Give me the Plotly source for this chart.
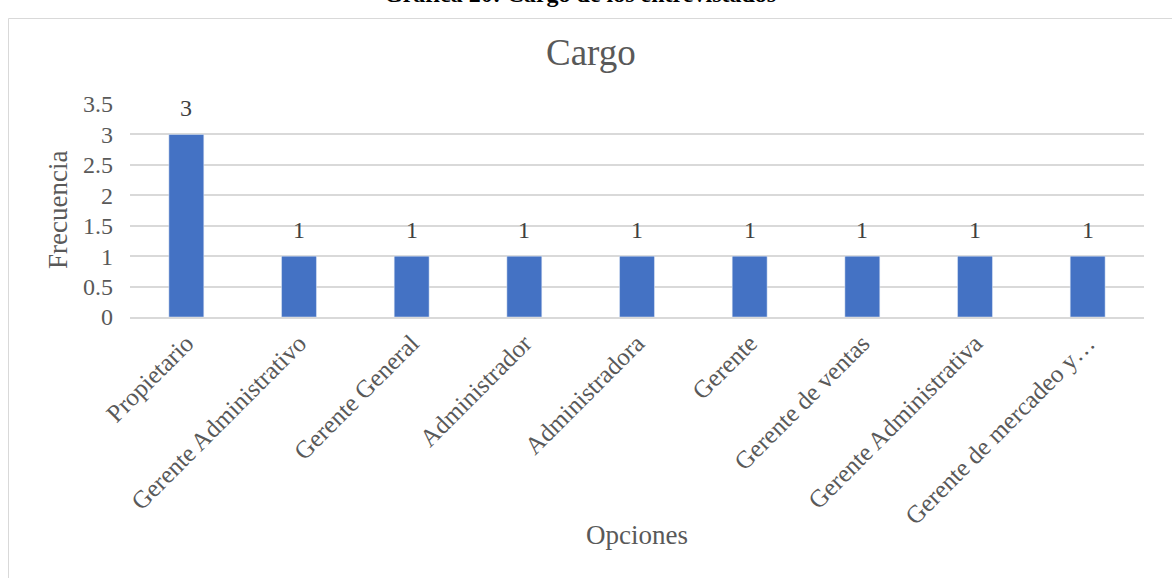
import plotly.graph_objects as go

categorias = ["Propietario", "Gerente Administrativo", "Gerente General", "Administrador",
              "Administradora", "Gerente", "Gerente de ventas", "Gerente Administrativa",
              "Gerente de mercadeo y…"]
frecuencia = [3, 1, 1, 1, 1, 1, 1, 1, 1]
y_ticks = [0, 0.5, 1, 1.5, 2, 2.5, 3, 3.5]
y_ticktext = ["0", "0.5", "1", "1.5", "2", "2.5", "3", "3.5"]

FONT = "Liberation Serif, Times New Roman, serif"
GRAY = "#595959"

L, R, T, B = 130, 28, 104, 261
W, H = 1172, 578
pw, ph = W - L - R, H - T - B

def px_x(x):
    return (x - L) / pw

def px_y(y):
    return (H - B - y) / ph

fig = go.Figure(go.Bar(
    x=categorias, y=frecuencia, marker_color="#4472C4", width=0.31, cliponaxis=False,
))

for c, v in zip(categorias, frecuencia):
    fig.add_annotation(x=c, y=v, text=str(v), showarrow=False, yshift=26,
                       font=dict(family=FONT, size=24, color="#404040"),
                       xanchor="center", yanchor="middle")

fig.update_layout(
    width=W, height=H, margin=dict(l=L, r=R, t=T, b=B),
    paper_bgcolor="white", plot_bgcolor="white", showlegend=False,
    font=dict(family=FONT, color=GRAY),
    xaxis=dict(tickangle=-45, tickfont=dict(family=FONT, size=25, color=GRAY),
               showgrid=False, showline=True, linecolor="#D9D9D9", linewidth=1.5,
               ticks="", range=[-0.5, 8.5]),
    yaxis=dict(range=[0, 3.5], tickvals=y_ticks, ticktext=y_ticktext,
               tickfont=dict(family=FONT, size=24, color=GRAY),
               showgrid=True, gridcolor="#D9D9D9", gridwidth=1.5, zeroline=False,
               ticks="", ticklabelstandoff=16),
    bargap=0.69,
)

fig.add_shape(type="rect", xref="paper", yref="paper",
              x0=px_x(8.5), x1=px_x(1200), y0=px_y(600), y1=px_y(18.5),
              line=dict(color="#D9D9D9", width=1), layer="below")

fig.add_annotation(text="Cargo", xref="paper", yref="paper", x=px_x(591), y=px_y(52),
                   showarrow=False, font=dict(family=FONT, size=37, color=GRAY),
                   xanchor="center", yanchor="middle")
fig.add_annotation(text="<b>Gráfica 20: Cargo de los entrevistados</b>", xref="paper", yref="paper",
                   x=px_x(580), y=px_y(-6), showarrow=False,
                   font=dict(family=FONT, size=24, color="black"),
                   xanchor="center", yanchor="middle")
fig.add_annotation(text="Frecuencia", xref="paper", yref="paper", x=px_x(58), y=px_y(210),
                   showarrow=False, textangle=-90, font=dict(family=FONT, size=27, color=GRAY),
                   xanchor="center", yanchor="middle")
fig.add_annotation(text="Opciones", xref="paper", yref="paper", x=px_x(637), y=px_y(535),
                   showarrow=False, font=dict(family=FONT, size=27, color=GRAY),
                   xanchor="center", yanchor="middle")

fig.write_html("out.html")
